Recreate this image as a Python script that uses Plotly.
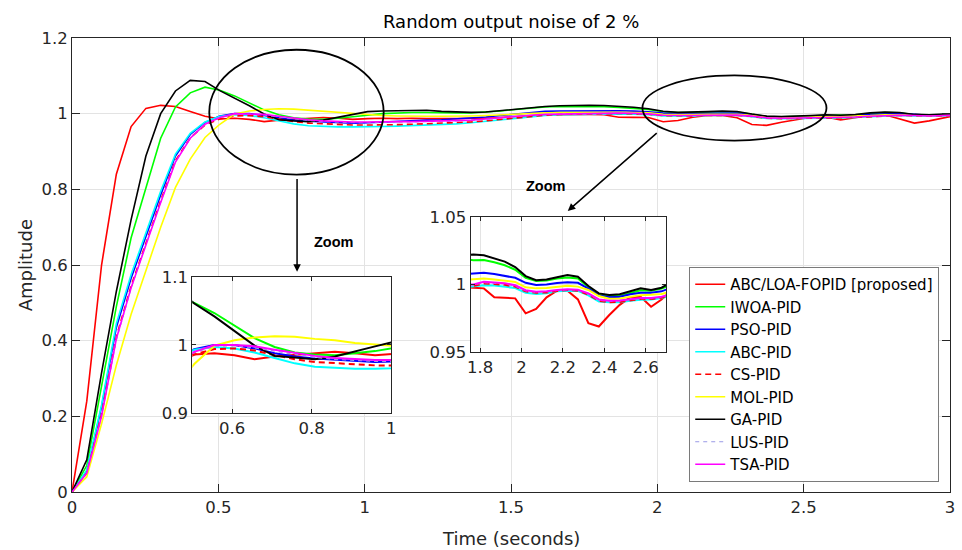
import numpy as np
import plotly.graph_objects as go

# Sample instants of the simulated step responses (fixed solver step)
step = 0.0505
t = np.round(np.arange(61) * step, 4)

abc_loa_fopid = [0, 0.24, 0.60, 0.84, 0.966, 1.014, 1.022, 1.019, 1.006, 0.993, 0.986,
                 0.988, 0.985, 0.979, 0.983, 0.985, 0.987, 0.990, 0.988, 0.985,
                 0.987, 0.988, 0.987, 0.988, 0.987, 0.986, 0.987, 0.988, 0.988, 0.990,
                 0.993, 0.995, 0.997, 0.997, 0.998,
                 0.9977, 0.9972, 0.9906, 0.9903, 0.9898, 0.9787, 0.982, 0.9906, 0.9955, 0.9955,
                 0.989, 0.9714, 0.969, 0.9775, 0.985, 0.9906, 0.991, 0.9836, 0.989,
                 0.996, 0.997, 0.985, 0.975, 0.981, 0.990, 0.997]
iwoa_pid = [0, 0.07, 0.28, 0.49, 0.672, 0.805, 0.935, 1.018, 1.055, 1.07, 1.062,
            1.047, 1.029, 1.010, 0.997, 0.989, 0.986, 0.985, 0.988, 0.991,
            0.996, 1.0, 1.002, 1.003, 1.003, 1.002, 1.002, 1.002, 1.004, 1.007,
            1.011, 1.015, 1.018, 1.019, 1.019,
            1.018, 1.0182, 1.0165, 1.0143, 1.011, 1.005, 1.0027, 1.003, 1.0045, 1.0052,
            1.0045, 0.998, 0.9925, 0.9915, 0.9918, 0.994, 0.9958, 0.9955, 0.997,
            1.0, 1.003, 1.002, 0.997, 0.996, 0.998, 0.999]
pso_pid = [0, 0.055, 0.225, 0.435, 0.565, 0.675, 0.785, 0.888, 0.945, 0.977, 0.994,
           1.0, 1.0, 0.995, 0.988, 0.983, 0.980, 0.978, 0.976, 0.975,
           0.976, 0.978, 0.980, 0.982, 0.983, 0.984, 0.986, 0.988, 0.991, 0.995,
           0.999, 1.003, 1.006, 1.007, 1.0075,
           1.0078, 1.0088, 1.0078, 1.0066, 1.005, 1.0013, 0.9997, 1.0, 1.0012, 1.0018,
           1.0013, 0.997, 0.992, 0.9907, 0.991, 0.9928, 0.994, 0.994, 0.995,
           0.998, 1.0, 1.0, 0.998, 0.996, 0.997, 0.998]
abc_pid = [0, 0.058, 0.23, 0.445, 0.575, 0.685, 0.795, 0.893, 0.948, 0.978, 0.993,
           0.997, 0.995, 0.989, 0.981, 0.973, 0.968, 0.966, 0.965, 0.965,
           0.965, 0.966, 0.967, 0.968, 0.970, 0.971, 0.973, 0.976, 0.980, 0.984,
           0.988, 0.992, 0.995, 0.997, 0.998,
           0.999, 0.9996, 0.9993, 0.9985, 0.9975, 0.994, 0.993, 0.9935, 0.995, 0.9955,
           0.9953, 0.992, 0.9875, 0.9869, 0.987, 0.988, 0.9888, 0.989, 0.990,
           0.992, 0.994, 0.995, 0.994, 0.993, 0.994, 0.995]
cs_pid = [0, 0.05, 0.205, 0.41, 0.545, 0.66, 0.77, 0.876, 0.936, 0.97, 0.986,
          0.994, 0.995, 0.992, 0.985, 0.979, 0.975, 0.973, 0.971, 0.970,
          0.970, 0.970, 0.971, 0.972, 0.973, 0.974, 0.976, 0.978, 0.981, 0.985,
          0.989, 0.993, 0.996, 0.998, 0.999,
          0.999, 1.0008, 1.0005, 0.9998, 0.9985, 0.995, 0.994, 0.9942, 0.9952, 0.996,
          0.9955, 0.9925, 0.988, 0.987, 0.9872, 0.9885, 0.9893, 0.9893, 0.9903,
          0.9925, 0.9945, 0.9955, 0.9945, 0.9935, 0.9945, 0.9955]
mol_pid = [0, 0.04, 0.18, 0.335, 0.47, 0.585, 0.70, 0.805, 0.88, 0.937, 0.972,
           0.999, 1.007, 1.011, 1.013, 1.012, 1.009, 1.007, 1.003, 1.0,
           0.997, 0.995, 0.994, 0.993, 0.993, 0.993, 0.993, 0.994, 0.995, 0.997,
           0.999, 1.001, 1.002, 1.003, 1.0035,
           1.0036, 1.0045, 1.0038, 1.003, 1.002, 0.998, 0.9972, 0.9975, 0.9985, 0.9991,
           0.9985, 0.996, 0.9915, 0.9895, 0.9897, 0.9912, 0.9922, 0.9925, 0.993,
           0.995, 0.997, 0.997, 0.996, 0.995, 0.996, 0.997]
ga_pid = [0, 0.085, 0.315, 0.53, 0.72, 0.888, 1.0, 1.06, 1.088, 1.085, 1.061,
          1.042, 1.021, 0.999, 0.984, 0.981, 0.979, 0.983, 0.991, 0.998,
          1.0053, 1.007, 1.008, 1.0097, 1.009, 1.006, 1.0044, 1.0035, 1.0044, 1.008,
          1.012, 1.017, 1.019, 1.021, 1.022,
          1.0222, 1.0217, 1.0195, 1.017, 1.013, 1.0063, 1.0033, 1.0038, 1.0055, 1.007,
          1.0058, 0.999, 0.9935, 0.9923, 0.9928, 0.995, 0.9972, 0.996, 0.9977,
          1.002, 1.004, 1.003, 0.998, 0.997, 0.999, 1.0]
lus_pid = [0, 0.05, 0.2, 0.4, 0.538, 0.655, 0.765, 0.872, 0.934, 0.971, 0.989,
           0.998, 0.999, 0.996, 0.991, 0.986, 0.982, 0.979, 0.977, 0.976,
           0.976, 0.977, 0.977, 0.978, 0.979, 0.979, 0.980, 0.982, 0.985, 0.989,
           0.992, 0.995, 0.997, 0.999, 1.0,
           0.9998, 1.0015, 1.001, 1.0005, 0.999, 0.9955, 0.9944, 0.9947, 0.9957, 0.9963,
           0.996, 0.993, 0.9886, 0.9876, 0.9878, 0.989, 0.9897, 0.9897, 0.9906,
           0.9928, 0.9948, 0.9957, 0.9948, 0.9938, 0.9948, 0.9958]
tsa_pid = [0, 0.05, 0.2, 0.405, 0.54, 0.655, 0.765, 0.872, 0.935, 0.972, 0.99,
           1.0, 1.0, 0.998, 0.993, 0.988, 0.984, 0.981, 0.979, 0.978,
           0.978, 0.979, 0.979, 0.979, 0.980, 0.980, 0.981, 0.983, 0.986, 0.990,
           0.993, 0.996, 0.998, 0.999, 1.0,
           1.0, 1.002, 1.0015, 1.001, 0.9995, 0.9958, 0.9947, 0.995, 0.996, 0.9966,
           0.9962, 0.9935, 0.989, 0.988, 0.9882, 0.9893, 0.99, 0.99, 0.991,
           0.993, 0.995, 0.996, 0.995, 0.994, 0.995, 0.996]

names = ["ABC/LOA-FOPID [proposed]", "IWOA-PID", "PSO-PID", "ABC-PID", "CS-PID",
         "MOL-PID", "GA-PID", "LUS-PID", "TSA-PID"]
series = [abc_loa_fopid, iwoa_pid, pso_pid, abc_pid, cs_pid, mol_pid, ga_pid, lus_pid, tsa_pid]
colors = ["#ff0000", "#00ff00", "#0000ff", "#00ffff", "#ff0000",
          "#ffff00", "#000000", "#9a9ae6", "#ff00ff"]
dashes = ["solid", "solid", "solid", "solid", "6px,4px", "solid", "solid", "4px,4px", "solid"]
widths = [1.6, 1.6, 1.6, 1.6, 1.6, 1.6, 1.6, 1.0, 1.6]

x_ticks = [0, 0.5, 1, 1.5, 2, 2.5, 3]
x_labels = ["0", "0.5", "1", "1.5", "2", "2.5", "3"]
y_ticks = [0, 0.2, 0.4, 0.6, 0.8, 1.0, 1.2]
y_labels = ["0", "0.2", "0.4", "0.6", "0.8", "1", "1.2"]

in1_xt = [0.6, 0.8, 1.0]
in1_xl = ["0.6", "0.8", "1"]
in1_yt = [0.9, 1.0, 1.1]
in1_yl = ["0.9", "1", "1.1"]
in2_xt = [1.8, 2.0, 2.2, 2.4, 2.6]
in2_xl = ["1.8", "2", "2.2", "2.4", "2.6"]
in2_yt = [0.95, 1.0, 1.05]
in2_yl = ["0.95", "1", "1.05"]

FONT = "DejaVu Sans"
AX = "#262626"
GRID = "#e3e3e3"

fig = go.Figure()
for axes, show in (("", True), ("2", False), ("3", False)):
    for name, y, c, d, w in zip(names, series, colors, dashes, widths):
        fig.add_trace(go.Scatter(
            x=t, y=y, name=name, mode="lines", showlegend=show,
            line=dict(color=c, dash=d, width=w if axes == "" else w + 0.4),
            xaxis="x" + axes, yaxis="y" + axes, hoverinfo="skip"))

def axis_style(**kw):
    base = dict(showline=True, linecolor=AX, linewidth=1, mirror="ticks",
                ticks="inside", tickcolor=AX, ticklen=8, tickwidth=1,
                showgrid=True, gridcolor=GRID, gridwidth=1, zeroline=False,
                tickfont=dict(family=FONT, size=16.5, color=AX))
    base.update(kw)
    return base

fig.update_layout(
    width=962, height=550, autosize=False,
    margin=dict(l=72, r=7, t=38, b=58),
    paper_bgcolor="white", plot_bgcolor="white",
    xaxis=axis_style(range=[0, 3], tickvals=x_ticks, ticktext=x_labels, domain=[0, 1]),
    yaxis=axis_style(range=[0, 1.2], tickvals=y_ticks, ticktext=y_labels, domain=[0, 1]),
    xaxis2=axis_style(range=[0.5, 1.0], tickvals=in1_xt, ticktext=in1_xl,
                      domain=[0.137, 0.3635], anchor="y2", ticklen=4),
    yaxis2=axis_style(range=[0.9, 1.1], tickvals=in1_yt, ticktext=in1_yl,
                      domain=[0.174, 0.4736], anchor="x2", ticklen=4),
    xaxis3=axis_style(range=[1.754, 2.70], tickvals=in2_xt, ticktext=in2_xl,
                      domain=[0.454, 0.677], anchor="y3", ticklen=4),
    yaxis3=axis_style(range=[0.95, 1.05], tickvals=in2_yt, ticktext=in2_yl,
                      domain=[0.308, 0.6057], anchor="x3", ticklen=4),
    legend=dict(x=0.703, y=0.4956, xanchor="left", yanchor="top",
                bgcolor="white", bordercolor="#7a7a7a", borderwidth=1,
                font=dict(family=FONT, size=15, color="#000000"),
                itemwidth=30, tracegroupgap=0),
    showlegend=True,
)

# Highlight ellipses around the zoomed regions
fig.add_shape(type="circle", xref="x", yref="y", x0=0.469, x1=1.065, y0=0.839, y1=1.169,
              line=dict(color="black", width=1.8), layer="above")
fig.add_shape(type="circle", xref="x", yref="y", x0=1.949, x1=2.578, y0=0.929, y1=1.101,
              line=dict(color="black", width=1.8), layer="above")

# Arrows from the ellipses to the insets
fig.add_annotation(x=0.769, y=0.582, ax=0.769, ay=0.831, xref="x", yref="y",
                   axref="x", ayref="y", text="", showarrow=True,
                   arrowhead=2, arrowsize=1, arrowwidth=1.5, arrowcolor="black")
fig.add_annotation(x=1.694, y=0.743, ax=2.003, ay=0.952, xref="x", yref="y",
                   axref="x", ayref="y", text="", showarrow=True,
                   arrowhead=2, arrowsize=1, arrowwidth=1.5, arrowcolor="black")
for zx, zy in ((0.895, 0.661), (1.619, 0.81)):
    fig.add_annotation(x=zx, y=zy, xref="x", yref="y", text="<b>Zoom</b>", showarrow=False,
                       font=dict(family="Liberation Sans", size=14.5, color="black"))

# Title and axis labels
fig.add_annotation(x=0.5, y=(492 - 22) / 454, xref="paper", yref="paper", yanchor="middle",
                   text="Random output noise of 2 %", showarrow=False,
                   font=dict(family=FONT, size=18, color="black"))
fig.add_annotation(x=0.5, y=-46 / 454, xref="paper", yref="paper", yanchor="middle",
                   text="Time (seconds)", showarrow=False,
                   font=dict(family=FONT, size=18, color=AX))
fig.add_annotation(x=-47 / 883, y=0.5, xref="paper", yref="paper", xanchor="center",
                   text="Amplitude", textangle=-90, showarrow=False,
                   font=dict(family=FONT, size=18, color=AX))

fig.write_html("out.html")
